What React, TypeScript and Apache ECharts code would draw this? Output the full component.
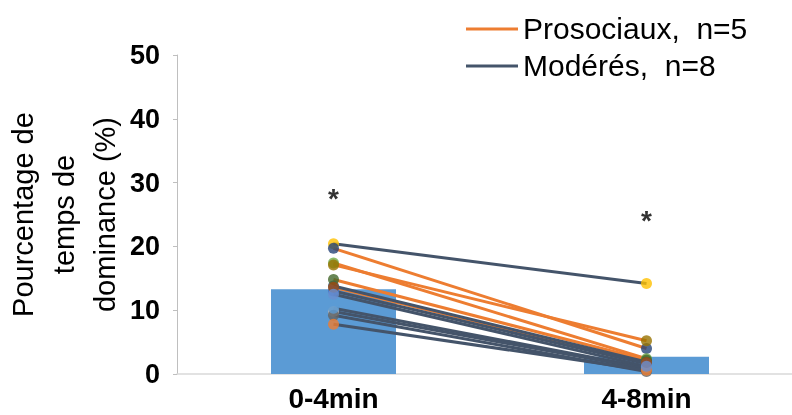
import React, { useEffect, useRef } from "react";
import * as echarts from "echarts";

const categories = ["0-4min", "4-8min"];
const meanValues = [13.3, 2.7];
const prosociauxStart = [19.7, 17.4, 17.1, 14.8, 13.6];
const prosociauxEnd = [4.0, 2.4, 5.2, 2.2, 1.8];
const moderesStart = [20.4, 13.8, 13.0, 12.5, 10.3, 9.8, 9.2, 7.8];
const moderesEnd = [14.2, 1.9, 1.6, 1.2, 1.0, 0.8, 0.4, 0.6];
const starLevels = [27.5, 24.1];
const legendLabels = ["Prosociaux,  n=5", "Modérés,  n=8"];
const yAxisTitle = "Pourcentage de\ntemps de\ndominance (%)";

const prosociauxDotColors = ["#264478", "#70AD47", "#997300", "#43682B", "#9E480E"];
const moderesDotColors = ["#FFC000", "#255E91", "#4472C4", "#698ED0", "#5B9BD5", "#B4B4B4", "#636363", "#ED7D31"];
const dotOrder: [string, number][] = [
  ["m", 0], ["p", 0], ["p", 1], ["p", 2], ["m", 1], ["p", 3], ["m", 2],
  ["m", 5], ["m", 6], ["m", 4], ["m", 7], ["p", 4], ["m", 3],
];

const FONT = '"Liberation Sans", Arial, sans-serif';
const ORANGE = "#ED7D31";
const SLATE = "#44546A";

export default function App() {
  const ref = useRef<HTMLDivElement>(null);
  useEffect(() => {
    if (!ref.current) return;
    const chart = echarts.init(ref.current, null, { renderer: "svg" });
    const lineSeries: any[] = [];
    prosociauxStart.forEach((v, i) => {
      lineSeries.push({
        type: "line",
        data: [v, prosociauxEnd[i]],
        showSymbol: false,
        symbol: "none",
        z: 3,
        lineStyle: { color: ORANGE, width: 3 },
      });
    });
    moderesStart.forEach((v, i) => {
      lineSeries.push({
        type: "line",
        data: [v, moderesEnd[i]],
        showSymbol: false,
        symbol: "none",
        z: 3,
        lineStyle: { color: SLATE, width: 3 },
      });
    });
    const dots: any[] = [];
    [0, 1].forEach((c) => {
      dotOrder.forEach(([g, i]) => {
        const val = g === "p"
          ? (c === 0 ? prosociauxStart[i] : prosociauxEnd[i])
          : (c === 0 ? moderesStart[i] : moderesEnd[i]);
        const color = g === "p" ? prosociauxDotColors[i] : moderesDotColors[i];
        dots.push({ value: [c, val], itemStyle: { color } });
      });
    });
    chart.setOption({
      animation: false,
      grid: { left: 177, width: 626, top: 55, bottom: 41, outerBoundsMode: "none", containLabel: false },
      xAxis: {
        type: "category",
        data: categories,
        axisLine: { lineStyle: { color: "#D9D9D9", width: 1.5 } },
        axisTick: { show: false },
        axisLabel: { fontFamily: FONT, fontSize: 28, fontWeight: "bold", color: "#000", margin: 10 },
      },
      yAxis: {
        type: "value",
        min: 0,
        max: 50,
        interval: 10,
        axisLine: { show: true, lineStyle: { color: "#BFBFBF", width: 1 } },
        axisTick: { show: true, length: 4, lineStyle: { color: "#BFBFBF" } },
        splitLine: { show: false },
        axisLabel: { fontFamily: FONT, fontSize: 27, fontWeight: "bold", color: "#000", margin: 17 },
        name: yAxisTitle,
        nameLocation: "middle",
        nameGap: 52,
        nameMoveOverlap: false,
        nameTextStyle: { fontFamily: FONT, fontSize: 29, lineHeight: 41, color: "#000" },
      },
      series: [
        {
          type: "bar",
          data: meanValues,
          barWidth: 125,
          z: 2,
          itemStyle: { color: "#5B9BD5" },
        },
        ...lineSeries,
        {
          type: "scatter",
          data: dots,
          symbolSize: 11,
          z: 4,
        },
        {
          type: "scatter",
          data: starLevels.map((v, i) => [i, v]),
          symbolSize: 0,
          z: 5,
          label: {
            show: true,
            position: "inside",
            formatter: "*",
            fontFamily: FONT,
            fontSize: 28,
            fontWeight: "bold",
            color: "#000",
          },
        },
      ],
      graphic: [
        { type: "line", shape: { x1: 466, y1: 29, x2: 518, y2: 29 }, style: { stroke: ORANGE, lineWidth: 3 } },
        { type: "line", shape: { x1: 466, y1: 66, x2: 518, y2: 66 }, style: { stroke: SLATE, lineWidth: 3 } },
        {
          type: "text", x: 523, y: 28,
          style: { text: legendLabels[0], font: `30px ${FONT}`, fill: "#000", verticalAlign: "middle" },
        },
        {
          type: "text", x: 523, y: 65,
          style: { text: legendLabels[1], font: `30px ${FONT}`, fill: "#000", verticalAlign: "middle" },
        },
      ],
    });
    return () => chart.dispose();
  }, []);
  return <div ref={ref} style={{ position: "fixed", left: 0, top: 0, width: 792, height: 415 }} />;
}
